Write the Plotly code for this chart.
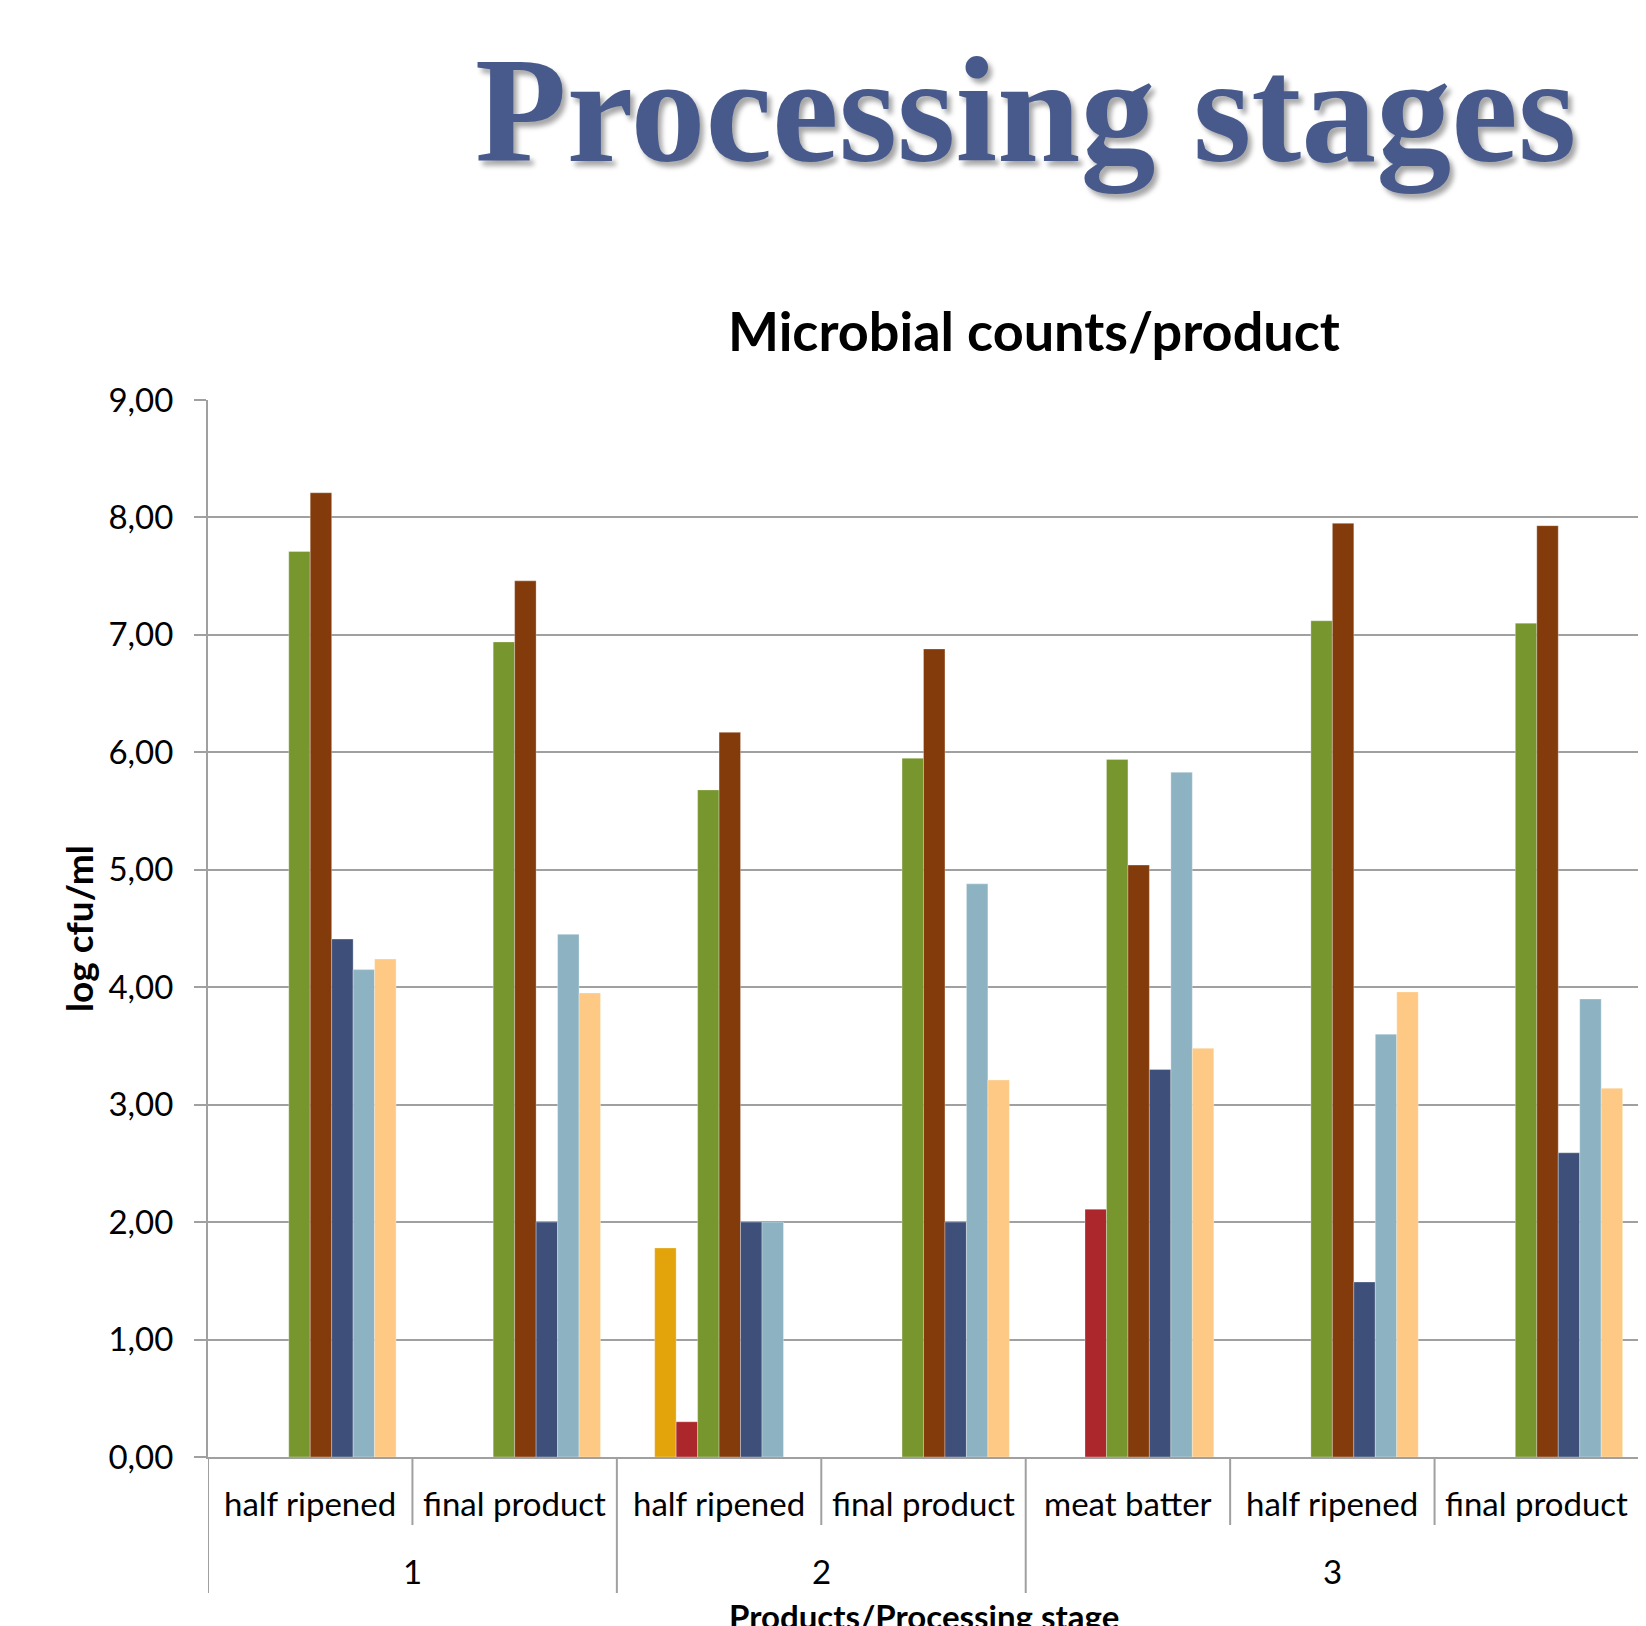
import plotly.graph_objects as go

# ---- data ----
products = ["1", "1", "2", "2", "3", "3", "3"]
stages = ["half ripened", "final product", "half ripened", "final product",
          "meat batter", "half ripened", "final product"]

series_orange = [None, None, 1.78, None, None, None, None]
series_red = [None, None, 0.30, None, 2.11, None, None]
series_green = [7.71, 6.94, 5.68, 5.95, 5.94, 7.12, 7.10]
series_brown = [8.21, 7.46, 6.17, 6.88, 5.04, 7.95, 7.93]
series_darkblue = [4.41, 2.00, 2.00, 2.00, 3.30, 1.49, 2.59]
series_lightblue = [4.15, 4.45, 2.00, 4.88, 5.83, 3.60, 3.90]
series_peach = [4.24, 3.95, None, 3.21, 3.48, 3.96, 3.14]

y_ticks = [0, 1, 2, 3, 4, 5, 6, 7, 8, 9]

# ---- layout geometry (page has an 8px body margin) ----
OFF = 8
W, H = 1646 - OFF, 1626 - OFF
PLOT_L, PLOT_R, PLOT_T, PLOT_B = 207.7, 1638.7, 400.0, 1457.0   # screen px
ML = PLOT_L - OFF
MR = W - (PLOT_R - OFF)
MT = PLOT_T - OFF
MB = H - (PLOT_B - OFF)
plot_h = PLOT_B - PLOT_T
plot_w = PLOT_R - PLOT_L

def py(screen_y):
    return (PLOT_B - screen_y) / plot_h

def px(screen_x):
    return (screen_x - PLOT_L) / plot_w

cats = [f"{p}|{s}" for p, s in zip(products, stages)]

series = [
    (series_orange, "#e2a40a", 1),
    (series_red, "#ab272b", 2),
    (series_green, "#77962e", 3),
    (series_brown, "#843b0b", 4),
    (series_darkblue, "#3e5079", 5),
    (series_lightblue, "#8db3c2", 6),
    (series_peach, "#fdc984", 7),
]
slot_w = 0.105

fig = go.Figure()
for vals, col, slot in series:
    fig.add_trace(go.Bar(
        x=cats, y=vals,
        marker=dict(color=col, line=dict(width=0.6, color="rgba(255,255,255,0.5)")),
        width=slot_w, offset=-4 * slot_w + slot * slot_w,
        showlegend=False,
    ))

axis_gray = "#a0a0a0"
annotations = []
shapes = []

# inner (stage) labels
for i, s in enumerate(stages):
    annotations.append(dict(text=s, x=i, xref="x", y=py(1503), yref="paper",
                            xanchor="center", yanchor="middle", showarrow=False,
                            font=dict(size=33, color="black")))
# outer (product) labels and dividers
groups = []
for i, p in enumerate(products):
    if groups and groups[-1][0] == p:
        groups[-1][2] = i
    else:
        groups.append([p, i, i])
for p, a, b in groups:
    annotations.append(dict(text=p, x=(a + b) / 2, xref="x", y=py(1571), yref="paper",
                            xanchor="center", yanchor="middle", showarrow=False,
                            font=dict(size=33, color="black")))
for i in range(len(products) + 1):
    long_div = (i == 0 or i == len(products) or products[i] != products[i - 1])
    y_end = 1593 if long_div else 1525
    shapes.append(dict(type="line", xref="x", yref="paper", x0=i - 0.5, x1=i - 0.5,
                       y0=0, y1=py(y_end), line=dict(color=axis_gray, width=2)))

annotations += [
    dict(text="<b>Processing stages</b>", xref="paper", yref="paper",
         x=px(1025), y=py(110), xanchor="center", yanchor="middle",
         showarrow=False,
         font=dict(family="'Liberation Serif', 'DejaVu Serif', serif", size=150,
                   color="#485a8c", shadow="4px 5px 5px rgba(0,0,0,0.35)")),
    dict(text="<b>Microbial counts/product</b>", xref="paper", yref="paper",
         x=px(1034), y=py(330), xanchor="center", yanchor="middle",
         showarrow=False, font=dict(size=54, color="black")),
    dict(text="<b>Products/Processing stage</b>", xref="paper", yref="paper",
         x=0.5, y=py(1594), xanchor="center", yanchor="top",
         showarrow=False, font=dict(size=33, color="black")),
]

fig.update_layout(
    width=W, height=H,
    margin=dict(l=ML, r=MR, t=MT, b=MB, autoexpand=False),
    paper_bgcolor="white", plot_bgcolor="white",
    barmode="overlay",
    separators=",.",
    font=dict(family="Lato, 'Open Sans', sans-serif", color="black"),
    xaxis=dict(
        type="category", categoryorder="array", categoryarray=cats,
        range=[-0.5, len(cats) - 0.5],
        showline=True, linecolor=axis_gray, linewidth=2,
        showticklabels=False, ticks="", showgrid=False,
    ),
    yaxis=dict(
        range=[0, 9], tickvals=y_ticks, tickformat=".2f",
        showgrid=True, gridcolor=axis_gray, gridwidth=2,
        showline=True, linecolor=axis_gray, linewidth=2,
        ticks="outside", ticklen=12, tickcolor=axis_gray, tickwidth=2,
        tickfont=dict(size=33, color="black"),
        ticklabelstandoff=14,
        zeroline=False,
        title=dict(text="<b>log cfu/ml</b>", font=dict(size=37, color="black"), standoff=4),
    ),
    annotations=annotations,
    shapes=shapes,
)

fig.write_html("out.html")
